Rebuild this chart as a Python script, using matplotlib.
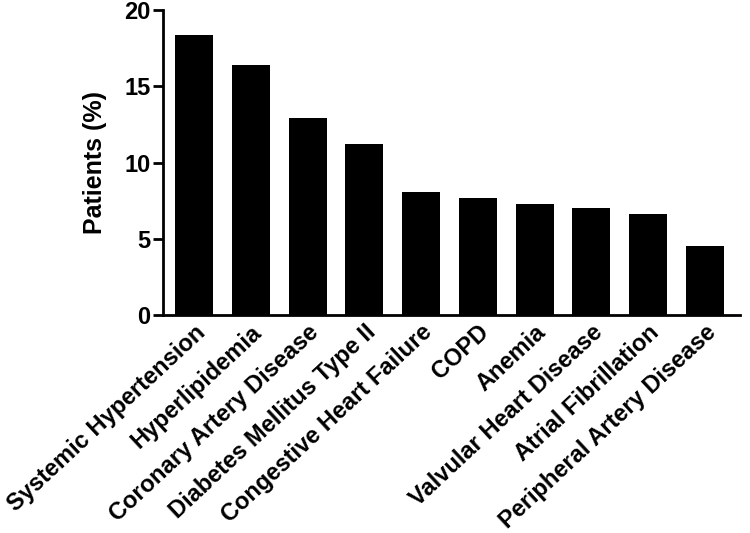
import numpy as np
import matplotlib.pyplot as plt

plt.rcParams['font.family'] = ['Liberation Sans', 'DejaVu Sans']
plt.rcParams['font.weight'] = 'bold'

conditions = ['Systemic Hypertension', 'Hyperlipidemia', 'Coronary Artery Disease',
              'Diabetes Mellitus Type II', 'Congestive Heart Failure', 'COPD', 'Anemia',
              'Valvular Heart Disease', 'Atrial Fibrillation', 'Peripheral Artery Disease']
patients_pct = [18.4, 16.4, 12.9, 11.2, 8.1, 7.7, 7.3, 7.05, 6.65, 4.5]
yticks = [0, 5, 10, 15, 20]

fig = plt.figure(figsize=(7.5, 5.33), dpi=100)
ax = fig.add_axes([0.217, 0.409, 0.770, 0.572])

x = np.arange(len(conditions))
ax.bar(x, patients_pct, width=0.67, color='black')

ax.set_xlim(-0.55, 9.62)
ax.set_ylim(0, 20)
ax.set_yticks(yticks)
ax.set_yticklabels([str(t) for t in yticks], fontsize=17, fontweight='bold')
ax.set_xticks(x)
ax.set_xticklabels(conditions, rotation=43, ha='right', rotation_mode='anchor',
                   fontsize=17, fontweight='bold')
ax.tick_params(axis='x', length=0, pad=4)
ax.tick_params(axis='y', width=2, length=7, pad=2)
ax.set_ylabel('Patients (%)', fontsize=18, fontweight='bold', labelpad=12)

for s in ['top', 'right']:
    ax.spines[s].set_visible(False)
for s in ['left', 'bottom']:
    ax.spines[s].set_linewidth(2)

fig.savefig('out.png', dpi=100)
